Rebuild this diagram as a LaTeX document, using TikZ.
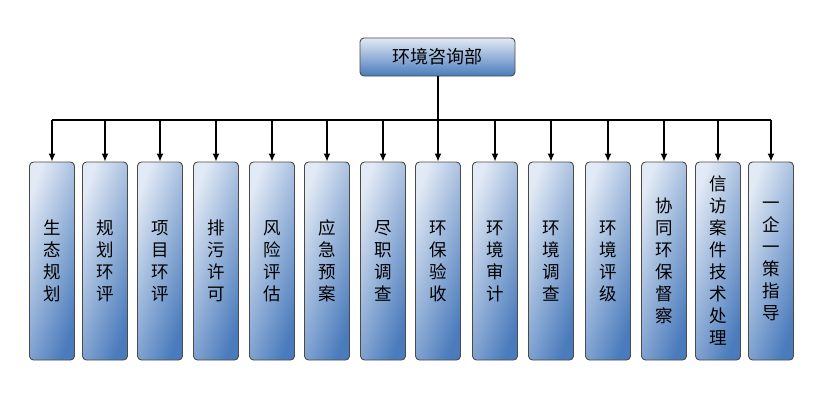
\documentclass[tikz,border=0pt]{standalone}
\usepackage{fontspec}
\setmainfont{Noto Sans CJK SC}
\usepackage{tikz}
\usetikzlibrary{arrows.meta}

\definecolor{boxlight}{HTML}{E2EAF5}
\definecolor{boxdark}{HTML}{4A7BBC}
\definecolor{boxline}{HTML}{4A4A4A}

\begin{document}
\begin{tikzpicture}[x=1pt, y=-1pt,
  dept/.style={draw=boxline, line width=0.9pt, rounded corners=4pt,
    left color=boxlight, right color=boxdark, shading angle=70,
    minimum width=45pt, minimum height=198pt, inner sep=0pt,
    align=center, font=\fontsize{17.5}{22}\selectfont},
  head/.style={draw=boxline, line width=0.9pt, rounded corners=4pt,
    top color=boxlight, bottom color=boxdark,
    minimum width=155pt, minimum height=38pt, inner sep=0pt,
    font=\fontsize{18}{20}\selectfont},
  link/.style={line width=1.4pt, -{Latex[length=8pt, width=7pt]}},
  bus/.style={line width=2pt}]

\useasboundingbox (0,0) rectangle (819,402);

% Top department
\node[head] (top) at (437.5,57) {环境咨询部};

% Bus line
\coordinate (busL) at (52,120);
\coordinate (busR) at (771,120);
\draw[bus] (top.south) -- (top.south |- busL);
\draw[bus] (busL) -- (busR);

% Service boxes
\node[dept] (b1)  at (52,261)  {生\\态\\规\\划};
\node[dept] (b2)  at (105,261) {规\\划\\环\\评};
\node[dept] (b3)  at (160,261) {项\\目\\环\\评};
\node[dept] (b4)  at (216,261) {排\\污\\许\\可};
\node[dept] (b5)  at (272,261) {风\\险\\评\\估};
\node[dept] (b6)  at (327,261) {应\\急\\预\\案};
\node[dept] (b7)  at (383,261) {尽\\职\\调\\查};
\node[dept] (b8)  at (438,261) {环\\保\\验\\收};
\node[dept] (b9)  at (495,261) {环\\境\\审\\计};
\node[dept] (b10) at (551,261) {环\\境\\调\\查};
\node[dept] (b11) at (608,261) {环\\境\\评\\级};
\node[dept] (b12) at (664,261) {协\\同\\环\\保\\督\\察};
\node[dept] (b13) at (718,261) {信\\访\\案\\件\\技\\术\\处\\理};
\node[dept] (b14) at (771,261) {一\\企\\一\\策\\指\\导};

% Arrows down from the bus
\draw[link] (b1.north |- busL) -- (b1.north);
\draw[link] (b2.north |- busL) -- (b2.north);
\draw[link] (b3.north |- busL) -- (b3.north);
\draw[link] (b4.north |- busL) -- (b4.north);
\draw[link] (b5.north |- busL) -- (b5.north);
\draw[link] (b6.north |- busL) -- (b6.north);
\draw[link] (b7.north |- busL) -- (b7.north);
\draw[link] (b8.north |- busL) -- (b8.north);
\draw[link] (b9.north |- busL) -- (b9.north);
\draw[link] (b10.north |- busL) -- (b10.north);
\draw[link] (b11.north |- busL) -- (b11.north);
\draw[link] (b12.north |- busL) -- (b12.north);
\draw[link] (b13.north |- busL) -- (b13.north);
\draw[link] (b14.north |- busL) -- (b14.north);

\end{tikzpicture}
\end{document}
